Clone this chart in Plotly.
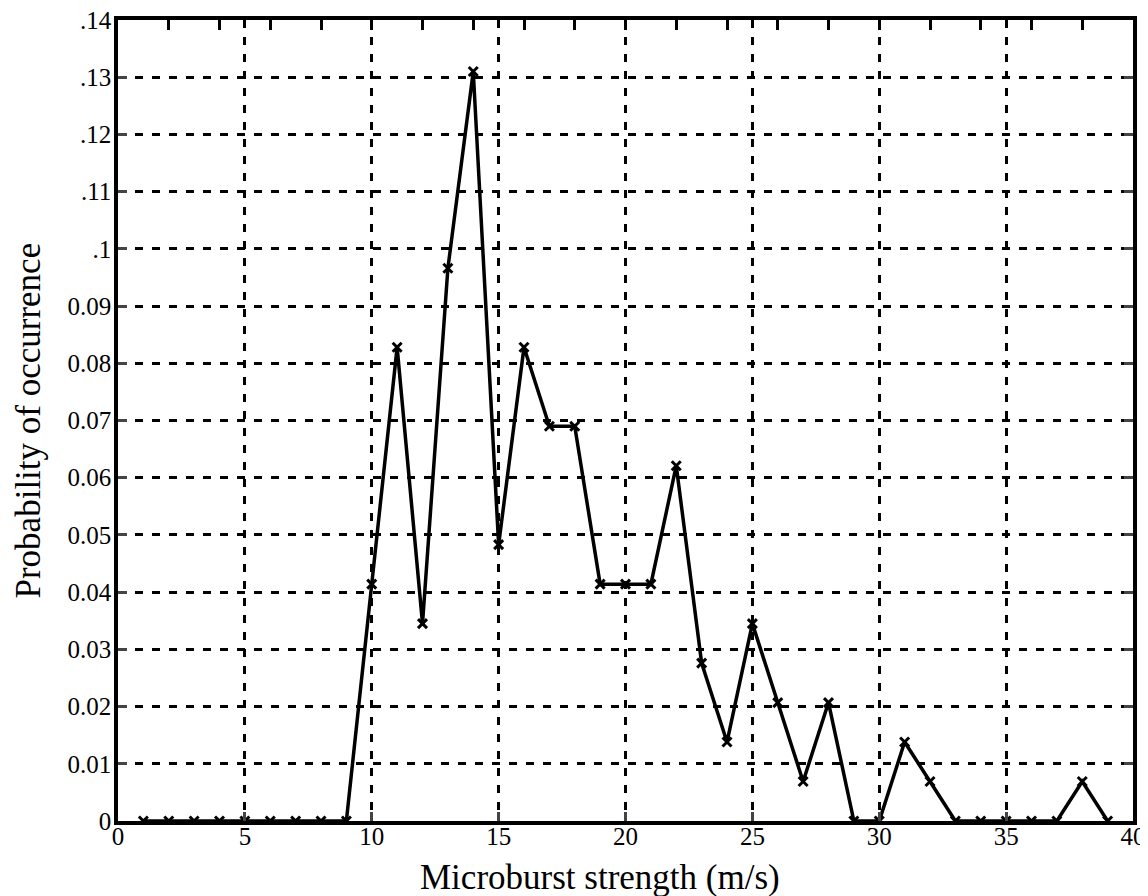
import plotly.graph_objects as go

# microburst strength (m/s) and probability of occurrence
strength = list(range(1, 40))
prob = [0, 0, 0, 0, 0, 0, 0, 0, 0,
        0.0414, 0.0828, 0.0345, 0.0966, 0.1310, 0.0483, 0.0828, 0.0690, 0.0690,
        0.0414, 0.0414, 0.0414, 0.0621, 0.0276, 0.0138, 0.0345, 0.0207, 0.0069,
        0.0207, 0, 0, 0.0138, 0.0069, 0, 0, 0, 0, 0, 0.0069, 0]

y_ticks = [0, 0.01, 0.02, 0.03, 0.04, 0.05, 0.06, 0.07, 0.08, 0.09, 0.10, 0.11, 0.12, 0.13, 0.14]
y_labels = ["0", "0.01", "0.02", "0.03", "0.04", "0.05", "0.06", "0.07", "0.08", "0.09",
            ".1", ".11", ".12", ".13", ".14"]
x_ticks = [0, 5, 10, 15, 20, 25, 30, 35, 40]
top_ticks = list(range(2, 40, 2))

font = "Liberation Serif, Times New Roman, serif"

fig = go.Figure()
fig.add_trace(go.Scatter(
    x=strength, y=prob, mode="lines+markers",
    line=dict(color="black", width=3.5),
    marker=dict(symbol="x-thin", size=9, line=dict(color="black", width=3)),
    showlegend=False))

# invisible trace on the top axis so its small ticks get drawn
fig.add_trace(go.Scatter(x=[0, 40], y=[0, 0], xaxis="x2", mode="lines",
                         line=dict(width=0), hoverinfo="skip", showlegend=False))

# page body has an 8px margin, so the figure is slightly smaller than the window
fig.update_layout(
    width=1140, height=888,
    margin=dict(l=110, r=15, t=12, b=75),
    plot_bgcolor="white", paper_bgcolor="white",
    font=dict(family=font, size=25, color="black"),
    xaxis=dict(
        range=[0, 40], tickvals=x_ticks, ticks="inside", ticklen=9, tickwidth=3,
        showgrid=True, gridcolor="black", gridwidth=3, griddash="8px,9px",
        showline=True, linecolor="black", linewidth=3.5, mirror=True,
        zeroline=False, tickfont=dict(size=25), automargin=False,
        ticklabelstandoff=-10, ticklabeloverflow="allow",
    ),
    xaxis2=dict(
        range=[0, 40], overlaying="x", side="top", tickvals=top_ticks,
        ticks="inside", ticklen=10, tickwidth=3, tickcolor="black",
        showticklabels=False, showgrid=False, zeroline=False, automargin=False,
    ),
    yaxis=dict(
        range=[0, 0.14], tickvals=y_ticks, ticktext=y_labels,
        ticks="inside", ticklen=9, tickwidth=3,
        showgrid=True, gridcolor="black", gridwidth=3, griddash="8px,9px",
        showline=True, linecolor="black", linewidth=3.5, mirror="ticks",
        zeroline=False, tickfont=dict(size=25), automargin=False,
        ticklabelstandoff=-2, ticklabeloverflow="allow",
    ),
    annotations=[
        dict(text="Microburst strength (m/s)", xref="paper", yref="paper",
             x=0.475, y=0, yshift=-56, xanchor="center", yanchor="middle",
             showarrow=False, font=dict(size=35)),
        dict(text="Probability of occurrence", xref="paper", yref="paper",
             x=0, y=0.5, xshift=-90, xanchor="center", yanchor="middle",
             textangle=-90, showarrow=False, font=dict(size=35)),
    ],
)

fig.write_html("out.html")
